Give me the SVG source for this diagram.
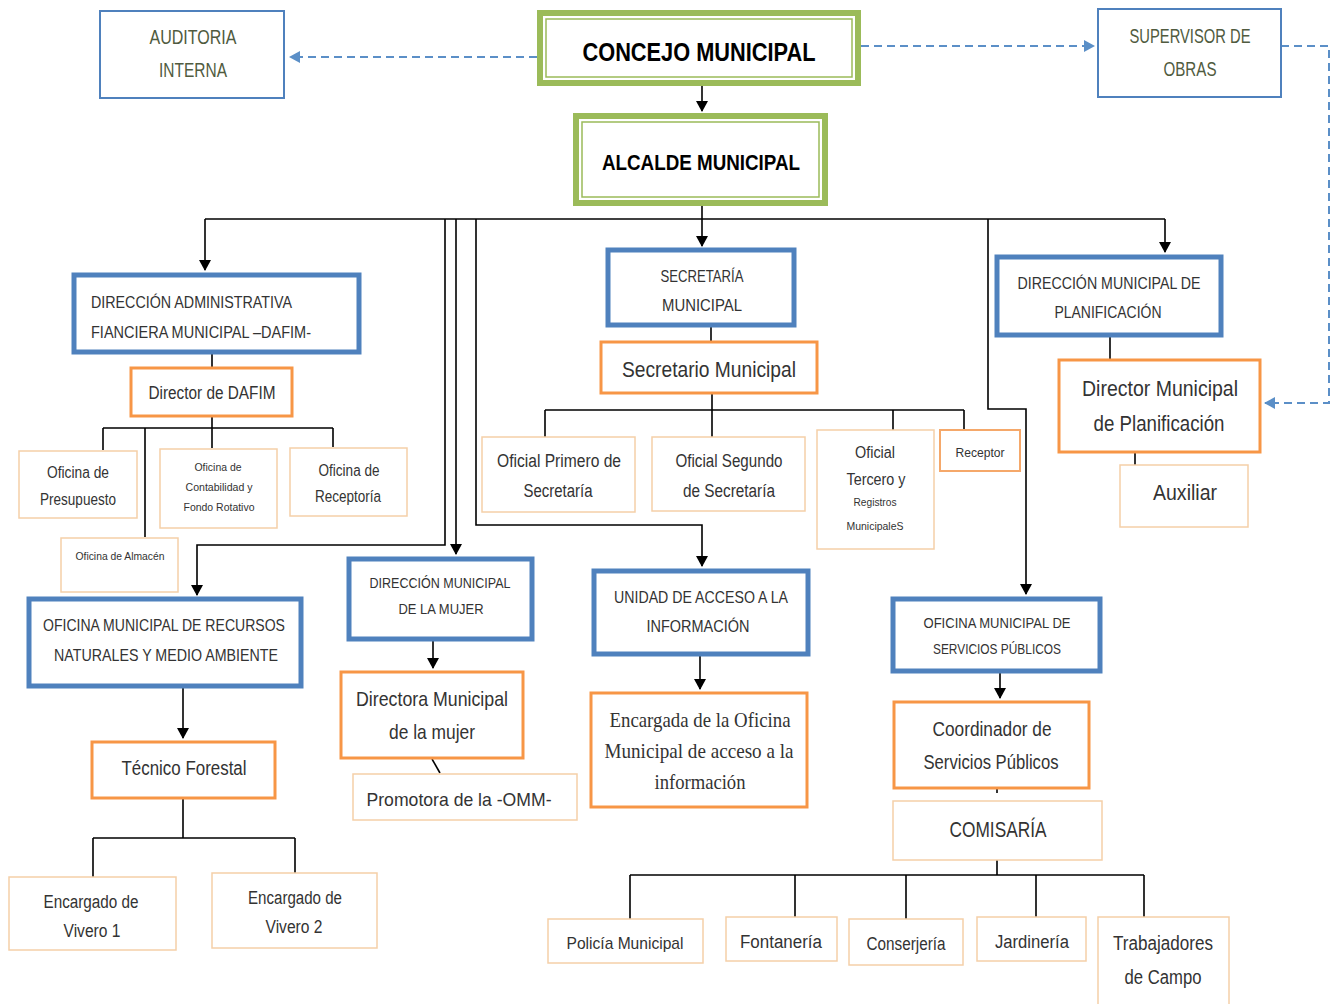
<svg xmlns="http://www.w3.org/2000/svg" width="1332" height="1004" viewBox="0 0 1332 1004">
<defs>
<marker id="ah" markerUnits="userSpaceOnUse" markerWidth="12" markerHeight="12" refX="10" refY="6" orient="auto"><path d="M0,0 L11,6 L0,12 z" fill="#000"/></marker>
<marker id="bh" markerUnits="userSpaceOnUse" markerWidth="12" markerHeight="12" refX="10" refY="6" orient="auto"><path d="M0,0 L11,6 L0,12 z" fill="#5b8fc7"/></marker>
</defs>
<style>
text{font-family:"Liberation Sans",Arial,sans-serif;fill:#333;text-anchor:middle}
.g{fill:#fff;stroke:#9bbb59;stroke-width:6}
.gi{fill:none;stroke:#9bbb59;stroke-width:1.5}
.b{fill:#fff;stroke:#4f81bd;stroke-width:5}
.bt{fill:#fff;stroke:#4f81bd;stroke-width:2}
.o{fill:#fff;stroke:#f79646;stroke-width:3}
.lo{fill:#fff;stroke:#f5cfa8;stroke-width:1.5}
.c{fill:none;stroke:#000;stroke-width:1.6}
.d{fill:none;stroke:#5b8fc7;stroke-width:2;stroke-dasharray:8 5}
.bold{font-weight:bold;fill:#000}
.ol{fill:#505b40}
.sr{font-family:"Liberation Serif",serif}
</style>

<g id="connectors">
<path class="d" d="M537,57 H290" marker-end="url(#bh)"/>
<path class="d" d="M861,46 H1094" marker-end="url(#bh)"/>
<path class="d" d="M1281,46 H1329 V403 H1265" marker-end="url(#bh)"/>
<path class="c" d="M702,86 V111" marker-end="url(#ah)"/>
<path class="c" d="M702,206 V219"/>
<path class="c" d="M205,219 H1165"/>
<path class="c" d="M702,219 V246" marker-end="url(#ah)"/>
<path class="c" d="M205,219 V270" marker-end="url(#ah)"/>
<path class="c" d="M1165,219 V252" marker-end="url(#ah)"/>
<path class="c" d="M445,219 V545 H197 V595" marker-end="url(#ah)"/>
<path class="c" d="M456,219 V554" marker-end="url(#ah)"/>
<path class="c" d="M476,219 V525 H702 V566" marker-end="url(#ah)"/>
<path class="c" d="M988,219 V409 H1026 V594" marker-end="url(#ah)"/>
<path class="c" d="M212,354 V367"/>
<path class="c" d="M212,417 V428 M103,428 H333 M103,428 V450 M212,428 V448 M333,428 V447 M145,428 V537"/>
<path class="c" d="M711,326 V341"/>
<path class="c" d="M712,393 V410 M545,410 H964 M545,410 V437 M712,410 V437 M893,410 V430 M964,410 V430"/>
<path class="c" d="M1110,336 V359"/>
<path class="c" d="M1135,453 V465"/>
<path class="c" d="M183,687 V738" marker-end="url(#ah)"/>
<path class="c" d="M183,798 V838 M93,838 H295 M93,838 V877 M295,838 V873"/>
<path class="c" d="M433,640 V668" marker-end="url(#ah)"/>
<path class="c" d="M432,759 L440,773"/>
<path class="c" d="M700,655 V689" marker-end="url(#ah)"/>
<path class="c" d="M1000,672 V698" marker-end="url(#ah)"/>
<path class="c" d="M997,789 V793"/>
<path class="c" d="M997,860 V875 M630,875 H1144 M630,875 V919 M795,875 V917 M906,875 V919 M1036,875 V917 M1144,875 V917"/>
</g>

<g id="auditoria"><rect class="bt" x="100" y="11" width="184" height="87"/><text class="ol" x="193" y="44" font-size="20" textLength="87" lengthAdjust="spacingAndGlyphs">AUDITORIA</text><text class="ol" x="193" y="77" font-size="20" textLength="68" lengthAdjust="spacingAndGlyphs">INTERNA</text></g>
<g id="supervisor"><rect class="bt" x="1098" y="9" width="183" height="88"/><text class="ol" x="1190" y="43" font-size="20" textLength="121" lengthAdjust="spacingAndGlyphs">SUPERVISOR DE</text><text class="ol" x="1190" y="76" font-size="20" textLength="53" lengthAdjust="spacingAndGlyphs">OBRAS</text></g>
<g id="concejo"><rect class="g" x="540" y="13" width="318" height="70"/><rect class="gi" x="546" y="19" width="306" height="58"/><text class="bold" x="699" y="61" font-size="26" textLength="233" lengthAdjust="spacingAndGlyphs">CONCEJO MUNICIPAL</text></g>
<g id="alcalde"><rect class="g" x="576" y="116" width="249" height="87"/><rect class="gi" x="582" y="122" width="237" height="75"/><text class="bold" x="701" y="170" font-size="22" textLength="198" lengthAdjust="spacingAndGlyphs">ALCALDE MUNICIPAL</text></g>

<g id="dafim"><rect class="b" x="74" y="275" width="285" height="77"/><text x="91" y="308" font-size="17" style="text-anchor:start" textLength="201" lengthAdjust="spacingAndGlyphs">DIRECCIÓN ADMINISTRATIVA</text><text x="91" y="338" font-size="17" style="text-anchor:start" textLength="220" lengthAdjust="spacingAndGlyphs">FIANCIERA MUNICIPAL –DAFIM-</text></g>
<g id="director-dafim"><rect class="o" x="131" y="368" width="161" height="48"/><text x="212" y="399" font-size="18" textLength="127" lengthAdjust="spacingAndGlyphs">Director de DAFIM</text></g>
<g id="presupuesto"><rect class="lo" x="19" y="451" width="118" height="67"/><text x="78" y="478" font-size="16" textLength="62" lengthAdjust="spacingAndGlyphs">Oficina de</text><text x="78" y="505" font-size="16" textLength="76" lengthAdjust="spacingAndGlyphs">Presupuesto</text></g>
<g id="contabilidad"><rect class="lo" x="160" y="449" width="117" height="79"/><text x="218" y="471" font-size="11" textLength="47" lengthAdjust="spacingAndGlyphs">Oficina de</text><text x="219" y="491" font-size="11" textLength="67" lengthAdjust="spacingAndGlyphs">Contabilidad y</text><text x="219" y="511" font-size="11" textLength="71" lengthAdjust="spacingAndGlyphs">Fondo Rotativo</text></g>
<g id="receptoria"><rect class="lo" x="290" y="448" width="117" height="68"/><text x="349" y="476" font-size="16" textLength="61" lengthAdjust="spacingAndGlyphs">Oficina de</text><text x="348" y="502" font-size="16" textLength="66" lengthAdjust="spacingAndGlyphs">Receptoría</text></g>
<g id="almacen"><rect class="lo" x="61" y="538" width="117" height="54"/><text x="120" y="560" font-size="11" textLength="89" lengthAdjust="spacingAndGlyphs">Oficina de Almacén</text></g>

<g id="secretaria"><rect class="b" x="608" y="250" width="186" height="75"/><text x="702" y="282" font-size="17" textLength="83" lengthAdjust="spacingAndGlyphs">SECRETARÍA</text><text x="702" y="311" font-size="17" textLength="80" lengthAdjust="spacingAndGlyphs">MUNICIPAL</text></g>
<g id="secretario"><rect class="o" x="601" y="342" width="216" height="51"/><text x="709" y="377" font-size="22" textLength="174" lengthAdjust="spacingAndGlyphs">Secretario Municipal</text></g>
<g id="oficial1"><rect class="lo" x="482" y="437" width="153" height="75"/><text x="559" y="467" font-size="18" textLength="124" lengthAdjust="spacingAndGlyphs">Oficial Primero de</text><text x="558" y="497" font-size="18" textLength="69" lengthAdjust="spacingAndGlyphs">Secretaría</text></g>
<g id="oficial2"><rect class="lo" x="652" y="437" width="153" height="74"/><text x="729" y="467" font-size="18" textLength="107" lengthAdjust="spacingAndGlyphs">Oficial Segundo</text><text x="729" y="497" font-size="18" textLength="92" lengthAdjust="spacingAndGlyphs">de Secretaría</text></g>
<g id="oficial3"><rect class="lo" x="817" y="430" width="117" height="119"/><text x="875" y="458" font-size="16" textLength="40" lengthAdjust="spacingAndGlyphs">Oficial</text><text x="876" y="485" font-size="16" textLength="59" lengthAdjust="spacingAndGlyphs">Tercero y</text><text x="875" y="506" font-size="11" textLength="43" lengthAdjust="spacingAndGlyphs">Registros</text><text x="875" y="530" font-size="11" textLength="57" lengthAdjust="spacingAndGlyphs">MunicipaleS</text></g>
<g id="receptor"><rect fill="#fff" stroke="#f5a86a" stroke-width="2" x="940" y="430" width="80" height="41"/><text x="980" y="457" font-size="13" textLength="49" lengthAdjust="spacingAndGlyphs">Receptor</text></g>

<g id="planificacion"><rect class="b" x="997" y="257" width="224" height="78"/><text x="1109" y="289" font-size="17" textLength="183" lengthAdjust="spacingAndGlyphs">DIRECCIÓN MUNICIPAL DE</text><text x="1108" y="318" font-size="17" textLength="107" lengthAdjust="spacingAndGlyphs">PLANIFICACIÓN</text></g>
<g id="director-plan"><rect class="o" x="1059" y="360" width="201" height="92"/><text x="1160" y="396" font-size="22" textLength="156" lengthAdjust="spacingAndGlyphs">Director Municipal</text><text x="1159" y="431" font-size="22" textLength="131" lengthAdjust="spacingAndGlyphs">de Planificación</text></g>
<g id="auxiliar"><rect class="lo" x="1120" y="465" width="128" height="62"/><text x="1185" y="500" font-size="22" textLength="64" lengthAdjust="spacingAndGlyphs">Auxiliar</text></g>

<g id="recursos"><rect class="b" x="29" y="599" width="272" height="87"/><text x="164" y="631" font-size="17" textLength="242" lengthAdjust="spacingAndGlyphs">OFICINA MUNICIPAL DE RECURSOS</text><text x="166" y="661" font-size="17" textLength="224" lengthAdjust="spacingAndGlyphs">NATURALES Y MEDIO AMBIENTE</text></g>
<g id="tecnico"><rect class="o" x="92" y="742" width="183" height="56"/><text x="184" y="775" font-size="20" textLength="125" lengthAdjust="spacingAndGlyphs">Técnico Forestal</text></g>
<g id="vivero1"><rect class="lo" x="9" y="877" width="167" height="73"/><text x="91" y="908" font-size="18" textLength="95" lengthAdjust="spacingAndGlyphs">Encargado de</text><text x="92" y="937" font-size="18" textLength="57" lengthAdjust="spacingAndGlyphs">Vivero 1</text></g>
<g id="vivero2"><rect class="lo" x="212" y="873" width="165" height="75"/><text x="295" y="904" font-size="18" textLength="94" lengthAdjust="spacingAndGlyphs">Encargado de</text><text x="294" y="933" font-size="18" textLength="57" lengthAdjust="spacingAndGlyphs">Vivero 2</text></g>

<g id="mujer"><rect class="b" x="349" y="559" width="183" height="80"/><text x="440" y="588" font-size="15" textLength="141" lengthAdjust="spacingAndGlyphs">DIRECCIÓN MUNICIPAL</text><text x="441" y="614" font-size="15" textLength="85" lengthAdjust="spacingAndGlyphs">DE LA MUJER</text></g>
<g id="directora"><rect class="o" x="341" y="672" width="182" height="86"/><text x="432" y="706" font-size="21" textLength="152" lengthAdjust="spacingAndGlyphs">Directora Municipal</text><text x="432" y="739" font-size="21" textLength="86" lengthAdjust="spacingAndGlyphs">de la mujer</text></g>
<g id="promotora"><rect class="lo" x="353" y="774" width="224" height="46"/><text x="459" y="806" font-size="19" textLength="185" lengthAdjust="spacingAndGlyphs">Promotora de la -OMM-</text></g>

<g id="unidad"><rect class="b" x="594" y="571" width="214" height="83"/><text x="701" y="603" font-size="17" textLength="174" lengthAdjust="spacingAndGlyphs">UNIDAD DE ACCESO A LA</text><text x="698" y="632" font-size="17" textLength="103" lengthAdjust="spacingAndGlyphs">INFORMACIÓN</text></g>
<g id="encargada"><rect class="o" x="591" y="693" width="216" height="114"/><text class="sr" x="700" y="727" font-size="22" textLength="181" lengthAdjust="spacingAndGlyphs">Encargada de la Oficina</text><text class="sr" x="699" y="758" font-size="22" textLength="189" lengthAdjust="spacingAndGlyphs">Municipal de acceso a la</text><text class="sr" x="700" y="789" font-size="22" textLength="91" lengthAdjust="spacingAndGlyphs">información</text></g>

<g id="servicios"><rect class="b" x="893" y="599" width="207" height="72"/><text x="997" y="628" font-size="15" textLength="147" lengthAdjust="spacingAndGlyphs">OFICINA MUNICIPAL DE</text><text x="997" y="654" font-size="15" textLength="128" lengthAdjust="spacingAndGlyphs">SERVICIOS PÚBLICOS</text></g>
<g id="coordinador"><rect class="o" x="894" y="702" width="195" height="86"/><text x="992" y="736" font-size="20" textLength="119" lengthAdjust="spacingAndGlyphs">Coordinador de</text><text x="991" y="769" font-size="20" textLength="135" lengthAdjust="spacingAndGlyphs">Servicios Públicos</text></g>
<g id="comisaria"><rect class="lo" x="893" y="801" width="209" height="59"/><text x="998" y="837" font-size="22" textLength="97" lengthAdjust="spacingAndGlyphs">COMISARÍA</text></g>
<g id="policia"><rect class="lo" x="548" y="919" width="155" height="44"/><text x="625" y="949" font-size="17" textLength="117" lengthAdjust="spacingAndGlyphs">Policía Municipal</text></g>
<g id="fontaneria"><rect class="lo" x="726" y="917" width="111" height="44"/><text x="781" y="948" font-size="18" textLength="82" lengthAdjust="spacingAndGlyphs">Fontanería</text></g>
<g id="conserjeria"><rect class="lo" x="849" y="919" width="114" height="46"/><text x="906" y="950" font-size="18" textLength="79" lengthAdjust="spacingAndGlyphs">Conserjería</text></g>
<g id="jardineria"><rect class="lo" x="977" y="917" width="109" height="44"/><text x="1032" y="948" font-size="18" textLength="74" lengthAdjust="spacingAndGlyphs">Jardinería</text></g>
<g id="trabajadores"><rect class="lo" x="1098" y="917" width="131" height="95"/><text x="1163" y="950" font-size="20" textLength="100" lengthAdjust="spacingAndGlyphs">Trabajadores</text><text x="1163" y="984" font-size="20" textLength="77" lengthAdjust="spacingAndGlyphs">de Campo</text></g>
</svg>
